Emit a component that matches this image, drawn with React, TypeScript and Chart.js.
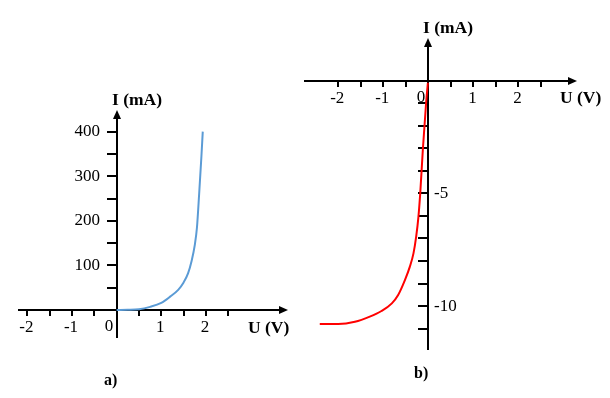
import React, { useEffect, useRef } from "react";
import { Chart, registerables } from "chart.js";

Chart.register(...registerables);

const SERIF = '"Liberation Serif", "Times New Roman", serif';

// ---- Chart a) forward characteristic ----
const forwardVoltage = [0, 0.25, 0.5, 0.75, 1.0, 1.2, 1.38, 1.49, 1.6, 1.68, 1.75, 1.8, 1.85, 1.9, 1.93];
const forwardCurrent = [0, 0.3, 1.5, 7, 16, 30, 45, 60, 82, 110, 145, 185, 262, 345, 400];
const aXTicks = [-2, -1.5, -1, -0.5, 0, 0.5, 1, 1.5, 2, 2.5];
const aXLabelValues = [-2, -1, 1, 2];
const aXLabelTexts = ["-2", "-1", "1", "2"];
const aYTicks = [0, 50, 100, 150, 200, 250, 300, 350, 400];
const aYLabelValues = [100, 200, 300, 400];
const aYLabelTexts = ["100", "200", "300", "400"];

// ---- Chart b) reverse characteristic ----
const reverseVoltage = [-2.41, -2.0, -1.63, -1.3, -1.04, -0.81, -0.67, -0.52, -0.41, -0.33, -0.27, -0.22, -0.18, -0.12, -0.05, -0.01];
const reverseCurrent = [-10.8, -10.8, -10.7, -10.47, -10.22, -9.88, -9.51, -8.85, -8.25, -7.66, -6.92, -6.04, -5.0, -3.0, -1.0, -0.09];
const bXTicks = [-2, -1.5, -1, -0.5, 0, 0.5, 1, 1.5, 2, 2.5];
const bXLabelValues = [-2, -1, 1, 2];
const bXLabelTexts = ["-2", "-1", "1", "2"];
const bYTicks = [-1, -2, -3, -4, -5, -6, -7, -8, -9, -10, -11];
const bYLabelValues = [-5, -10];
const bYLabelTexts = ["-5", "-10"];

type AxisOpts = {
  xTicks: number[];
  xLabelValues: number[];
  xLabelTexts: string[];
  yTicks: number[];
  yLabelValues: number[];
  yLabelTexts: string[];
  yLabelSide: "left" | "right";
  yTitle: string;
  xTitle: string;
  xTitlePos: [number, number];
  yTitlePos: [number, number];
  zeroOffset: [number, number];
  caption: string;
  captionPos: [number, number];
};

const crossAxesPlugin = {
  id: "crossAxes",
  beforeDatasetsDraw(chart: any, _args: any, opts: AxisOpts) {
    const ctx: CanvasRenderingContext2D = chart.ctx;
    const xs = chart.scales.x;
    const ys = chart.scales.y;
    const area = chart.chartArea;
    const ox = Math.round(xs.getPixelForValue(0));
    const oy = Math.round(ys.getPixelForValue(0));
    ctx.save();
    ctx.strokeStyle = "#000";
    ctx.fillStyle = "#000";
    ctx.lineWidth = 2;
    ctx.lineCap = "butt";

    // x axis + arrow
    ctx.beginPath();
    ctx.moveTo(area.left, oy);
    ctx.lineTo(area.right - 6, oy);
    ctx.stroke();
    ctx.beginPath();
    ctx.moveTo(area.right, oy);
    ctx.lineTo(area.right - 9, oy - 4);
    ctx.lineTo(area.right - 9, oy + 4);
    ctx.closePath();
    ctx.fill();

    // y axis + arrow
    ctx.beginPath();
    ctx.moveTo(ox, area.bottom);
    ctx.lineTo(ox, area.top + 6);
    ctx.stroke();
    ctx.beginPath();
    ctx.moveTo(ox, area.top);
    ctx.lineTo(ox - 4, area.top + 9);
    ctx.lineTo(ox + 4, area.top + 9);
    ctx.closePath();
    ctx.fill();

    // ticks
    ctx.beginPath();
    for (const v of opts.xTicks) {
      const px = Math.round(xs.getPixelForValue(v));
      ctx.moveTo(px, oy);
      ctx.lineTo(px, oy + 6);
    }
    for (const v of opts.yTicks) {
      const py = Math.round(ys.getPixelForValue(v));
      ctx.moveTo(ox, py);
      ctx.lineTo(ox - 10, py);
    }
    ctx.stroke();

    // tick labels
    ctx.font = `17px ${SERIF}`;
    ctx.textBaseline = "middle";
    ctx.textAlign = "center";
    opts.xLabelValues.forEach((v, i) => {
      ctx.fillText(opts.xLabelTexts[i], xs.getPixelForValue(v) - 1, oy + 18);
    });
    ctx.fillText("0", ox + opts.zeroOffset[0], oy + opts.zeroOffset[1]);
    ctx.textAlign = opts.yLabelSide === "left" ? "right" : "left";
    opts.yLabelValues.forEach((v, i) => {
      const x = opts.yLabelSide === "left" ? ox - 17 : ox + 6;
      ctx.fillText(opts.yLabelTexts[i], x, ys.getPixelForValue(v));
    });

    // titles
    ctx.font = `bold 17.5px ${SERIF}`;
    ctx.textAlign = "left";
    ctx.fillText(opts.yTitle, ox + opts.yTitlePos[0], area.top + opts.yTitlePos[1]);
    ctx.fillText(opts.xTitle, area.right + opts.xTitlePos[0], oy + opts.xTitlePos[1]);
    ctx.font = `bold 16px ${SERIF}`;
    ctx.fillText(opts.caption, opts.captionPos[0], opts.captionPos[1]);
    ctx.restore();
  },
};

type PanelProps = {
  xs: number[];
  ys: number[];
  color: string;
  xRange: [number, number];
  yRange: [number, number];
  padding: { left: number; right: number; top: number; bottom: number };
  axes: AxisOpts;
};

function Panel(props: PanelProps) {
  const ref = useRef<HTMLCanvasElement | null>(null);
  useEffect(() => {
    if (!ref.current) return;
    const chart = new Chart(ref.current, {
      type: "scatter",
      data: {
        datasets: [
          {
            data: props.xs.map((x, i) => ({ x, y: props.ys[i] })),
            showLine: true,
            borderColor: props.color,
            borderWidth: 2,
            pointRadius: 0,
            cubicInterpolationMode: "monotone",
            fill: false,
          } as any,
        ],
      },
      options: {
        animation: false,
        responsive: false,
        maintainAspectRatio: false,
        events: [],
        layout: { padding: props.padding },
        plugins: {
          legend: { display: false },
          tooltip: { enabled: false },
          crossAxes: props.axes,
        } as any,
        scales: {
          x: { type: "linear", display: false, min: props.xRange[0], max: props.xRange[1] },
          y: { type: "linear", display: false, min: props.yRange[0], max: props.yRange[1] },
        },
      },
      plugins: [crossAxesPlugin as any],
    });
    return () => chart.destroy();
  }, []);
  return (
    <canvas
      ref={ref}
      width={610}
      height={398}
      style={{ position: "absolute", left: 0, top: 0, width: 610, height: 398 }}
    />
  );
}

export default function App() {
  return (
    <div style={{ position: "fixed", left: 0, top: 0, width: 610, height: 398, background: "#fff" }}>
      <Panel
        xs={forwardVoltage}
        ys={forwardCurrent}
        color="#5B9BD5"
        xRange={[-2.21, 3.84]}
        yRange={[-62.8, 448.6]}
        padding={{ left: 18, right: 322, top: 110, bottom: 60 }}
        axes={{
          xTicks: aXTicks,
          xLabelValues: aXLabelValues,
          xLabelTexts: aXLabelTexts,
          yTicks: aYTicks,
          yLabelValues: aYLabelValues,
          yLabelTexts: aYLabelTexts,
          yLabelSide: "left",
          yTitle: "I (mA)",
          xTitle: "U (V)",
          xTitlePos: [-40, 18],
          yTitlePos: [-5, -10],
          zeroOffset: [-8, 17],
          caption: "a)",
          captionPos: [104, 381],
        }}
      />
      <Panel
        xs={reverseVoltage}
        ys={reverseCurrent}
        color="#FF0000"
        xRange={[-2.76, 3.3]}
        yRange={[-11.95, 1.895]}
        padding={{ left: 304, right: 33, top: 38, bottom: 48 }}
        axes={{
          xTicks: bXTicks,
          xLabelValues: bXLabelValues,
          xLabelTexts: bXLabelTexts,
          yTicks: bYTicks,
          yLabelValues: bYLabelValues,
          yLabelTexts: bYLabelTexts,
          yLabelSide: "right",
          yTitle: "I (mA)",
          xTitle: "U (V)",
          xTitlePos: [-17, 17],
          yTitlePos: [-5, -10],
          zeroOffset: [-7, 17],
          caption: "b)",
          captionPos: [414, 374],
        }}
      />
    </div>
  );
}
